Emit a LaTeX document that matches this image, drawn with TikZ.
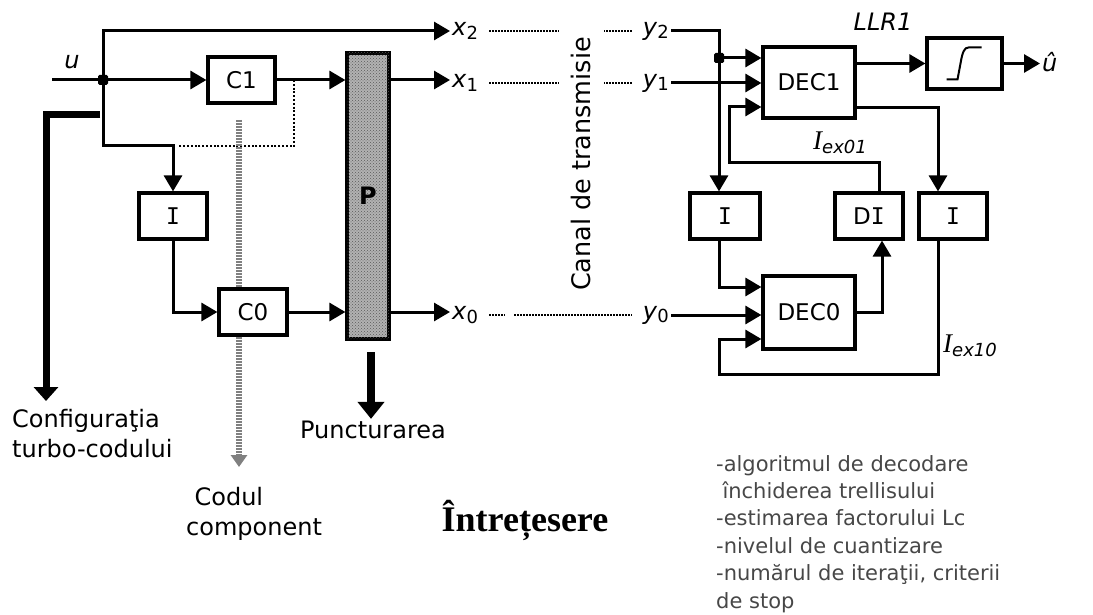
\documentclass[tikz,border=0pt]{standalone}
\usepackage{fontspec}
\setmainfont{DejaVu Sans}
\newfontfamily\tcserif{Liberation Serif}
\newfontfamily\tcmono{DejaVu Sans Mono}
\usetikzlibrary{arrows.meta,calc,patterns}

\begin{document}
\begin{tikzpicture}
% Turbo-code chain, laid out on the pixel grid of the scan
\def\pxsz{1pt}
\providecommand{\tcLineWidth}{3pt}
\providecommand{\tcBoxLineWidth}{3.2pt}
\providecommand{\tcLabelFont}{\fontsize{24}{30}\selectfont}
\providecommand{\tcBoxFont}{\fontsize{23}{28}\selectfont}
\providecommand{\tcSubFont}{\fontsize{18}{20}\selectfont}
\providecommand{\tcListColor}{black!72}
\begin{scope}[x=\pxsz, y=-\pxsz, line join=miter,
  blk/.style={draw, line width=\tcBoxLineWidth, inner sep=0pt, minimum height=46pt, font=\tcBoxFont},
  wire/.style={line width=\tcLineWidth},
  arr/.style={wire, -{Triangle[length=16pt,width=18pt]}},
  bigarr/.style={line width=7pt, -{Triangle[length=14pt,width=24pt]}},
  grayline/.style={line width=6pt, draw=black!50, dash pattern=on 2pt off 1pt},
  dotline/.style={line width=2pt, dash pattern=on 2pt off 1.8pt},
  chdots/.style={line width=1.3pt, dash pattern=on 1.5pt off 1.5pt},
  lbl/.style={font=\tcLabelFont, inner sep=2pt},
  jct/.style={fill, rounded corners=1.5pt, minimum size=10pt, inner sep=0pt}]

  \useasboundingbox (0,0) rectangle (1093,615);

  % Encoder
  \node[blk, minimum width=67pt] (C1) at (241.5,80) {C1};
  \node[blk, minimum width=68pt] (Ie) at (173,216) {{\tcmono I}};
  \node[blk, minimum width=68pt] (C0) at (253,312) {C0};
  \node[draw, line width=\tcBoxLineWidth, fill=black!30,
        postaction={pattern=crosshatch dots, pattern color=black!65},
        minimum width=42pt, minimum height=286pt, inner sep=0pt,
        font=\bfseries\tcLabelFont] (P) at (368,196) {P};

  \node[jct] (J1) at (103,80) {};
  \coordinate (uin) at (52,80);
  \node[lbl, font=\tcLabelFont\itshape] (u) at (72,62) {u};
  \draw[wire] (uin) -- (J1);
  \draw[arr] (J1) -- (C1.west);

  \node[lbl, anchor=west] (x2) at (450,31) {\textit{x}{\tcSubFont\raisebox{-0.35ex}{2}}};
  \node[lbl, anchor=west] (x1) at (450,83) {\textit{x}{\tcSubFont\raisebox{-0.35ex}{1}}};
  \node[lbl, anchor=west] (x0) at (450,315) {\textit{x}{\tcSubFont\raisebox{-0.35ex}{0}}};
  \draw[arr] (J1) |- (x2.west);
  \draw[arr] (C1.east) -- (C1.east -| P.west);
  \draw[arr] (C1.east -| P.east) -- (C1.east -| x1.west);
  \draw[arr] (C0.east) -- (C0.east -| P.west);
  \draw[arr] (C0.east -| P.east) -- (C0.east -| x0.west);

  % Interleaver branch
  \coordinate (J2) at (103,146);
  \draw[arr] (J1) -- (J2) -| (Ie.north);
  \draw[arr] (Ie.south) |- (C0.west);

  % Dotted tap after C1
  \coordinate (dA) at (294,80);
  \coordinate (dB) at (178,146);
  \draw[dotline] (dA) |- (dB);

  % Channel
  \node[lbl, anchor=east] (y2) at (671,31) {\textit{y}{\tcSubFont\raisebox{-0.35ex}{2}}};
  \node[lbl, anchor=east] (y1) at (671,83) {\textit{y}{\tcSubFont\raisebox{-0.35ex}{1}}};
  \node[lbl, anchor=east] (y0) at (671,315) {\textit{y}{\tcSubFont\raisebox{-0.35ex}{0}}};
  \draw[chdots] ([xshift=9pt]x2.east) -- ++(70,0);
  \draw[chdots] ([xshift=9pt]x1.east) -- ++(70,0);
  \draw[chdots] ([xshift=9pt]x0.east) -- ++(16,0);
  \draw[chdots] ([xshift=34pt]x0.east) -- ++(118,0);
  \draw[chdots] ([xshift=-9pt]y2.west) -- ++(-28,0);
  \draw[chdots] ([xshift=-9pt]y1.west) -- ++(-28,0);
  \node[lbl, rotate=90, font=\fontsize{25.5}{30}\selectfont] (canal) at (581,164) {Canal de transmisie};

  % Decoder
  \node[blk, minimum width=92pt, minimum height=71pt] (DEC1) at (809,82.5) {DEC1};
  \node[blk, minimum width=92pt, minimum height=73pt] (DEC0) at (809,312.5) {DEC0};
  \node[blk, minimum width=70pt] (Ia) at (725,216) {{\tcmono I}};
  \node[blk, minimum width=68pt] (DI) at (869,216) {D{\tcmono I}};
  \node[blk, minimum width=68pt] (Ib) at (953,216) {{\tcmono I}};
  \node[blk, minimum width=75pt, minimum height=51pt] (Lim) at (964.5,63.5) {};
  \draw[line width=2pt] ($(Lim.center)+(-18,16)$) -- ($(Lim.center)+(-7,16)$)
    -- ($(Lim.center)+(-4,0)$)
    .. controls ($(Lim.center)+(-2,-12)$) and ($(Lim.center)+(0,-16)$) .. ($(Lim.center)+(4,-16)$)
    -- ($(Lim.center)+(17,-16)$);

  \node[jct] (J3) at (719,58) {};
  \draw[wire] (y2.east) -| (J3);
  \draw[arr] (J3) -- (J3 -| DEC1.west);
  \draw[arr] (J3) -- (J3 |- Ia.north);
  \draw[arr] (y1.east) -- (y1.east -| DEC1.west);
  \draw[arr] (y0.east) -- (y0.east -| DEC0.west);

  \coordinate (fb) at (729,163);
  \draw[arr] ([xshift=10pt]DI.north) |- (fb) |- ([yshift=-24.5pt]DEC1.west);
  \draw[arr] ([xshift=-6pt]Ia.south) |- ([yshift=25.5pt]DEC0.west);
  \draw[arr] (DEC0.east) -| ([xshift=13pt]DI.south);
  \draw[arr] ([yshift=-25.5pt]DEC1.east) -| ([xshift=-15pt]Ib.north);
  \coordinate (lp) at (719,374);
  \draw[arr] ([xshift=-15pt]Ib.south) |- (lp) |- ([yshift=-26.5pt]DEC0.west);

  \node[lbl, font=\tcLabelFont\itshape] (LLR) at (883,22) {LLR1};
  \node[lbl, anchor=west, font=\tcLabelFont\itshape] (uhat) at (1040,62) {û};
  \draw[arr] (DEC1.east |- Lim.west) -- (Lim.west);
  \draw[arr] (Lim.east) -- (Lim.east -| uhat.west);
  \node[lbl] (Iex01) at (840,143) {{\tcserif\itshape\fontsize{27}{30}\selectfont I}{\tcSubFont\itshape\raisebox{-0.45ex}{ex01}}};
  \node[lbl] (Iex10) at (970,346) {{\tcserif\itshape\fontsize{27}{30}\selectfont I}{\tcSubFont\itshape\raisebox{-0.45ex}{ex10}}};

  % Design parameters
  \node[lbl, anchor=north west, align=left] (conf) at (10,407) {Configuraţia\\turbo-codului};
  \coordinate (k1) at (100,115);
  \coordinate (k2) at (46,401);
  \draw[bigarr] (k1) -| (k2);

  \coordinate (g1) at (239,120);
  \coordinate (g2) at (239,467);
  \draw[grayline] (g1) -- (g1 |- C0.north);
  \draw[grayline, -{Triangle[length=12pt,width=16pt]}] (g1 |- C0.south) -- (g2);
  \node[lbl, anchor=north west, align=left] (codul) at (184,485) {\hspace{0.35em}Codul\\component};

  \node[lbl] (punct) at (373,430) {Puncturarea};
  \coordinate (pk) at (371,352);
  \draw[bigarr, line width=8pt, -{Triangle[length=17pt,width=26pt]}] (pk) -- (pk |- punct.north);

  \node[font=\tcserif\bfseries\fontsize{36}{40}\selectfont] (intr) at (525,520) {Întrețesere};

  \node[anchor=north west, align=left, text=\tcListColor, inner sep=0pt,
        font=\fontsize{21}{27.4}\selectfont] (lst) at (716,455)
    {-algoritmul de decodare\\
     \hspace{0.3em}închiderea trellisului\\
     -estimarea factorului Lc\\
     -nivelul de cuantizare\\
     -numărul de iteraţii, criterii\\
     de stop};
\end{scope}
\end{tikzpicture}
\end{document}
